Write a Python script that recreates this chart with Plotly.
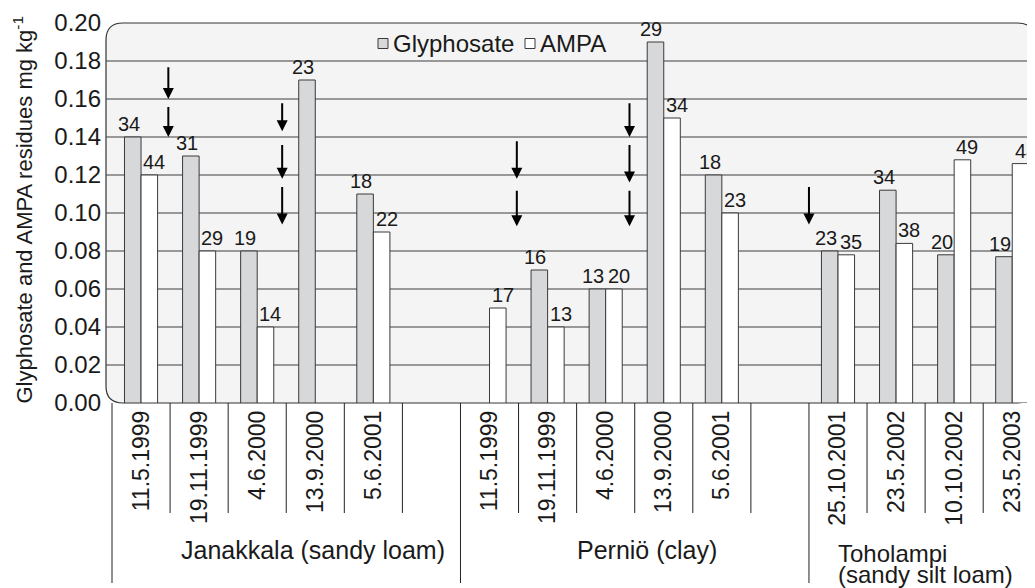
import plotly.graph_objects as go

# ---------------- data ----------------
dates = ["11.5.1999", "19.11.1999", "4.6.2000", "13.9.2000", "5.6.2001", "",
         "11.5.1999", "19.11.1999", "4.6.2000", "13.9.2000", "5.6.2001", "",
         "25.10.2001", "23.5.2002", "10.10.2002", "23.5.2003"]
glyphosate = [0.14, 0.13, 0.08, 0.17, 0.11, None,
              None, 0.07, 0.06, 0.19, 0.12, None,
              0.080, 0.112, 0.078, 0.077]
ampa = [0.12, 0.08, 0.04, None, 0.09, None,
        0.05, 0.04, 0.06, 0.15, 0.10, None,
        0.078, 0.084, 0.128, 0.126]
glyphosate_n = ["34", "31", "19", "23", "18", "",
                "", "16", "13", "29", "18", "",
                "23", "34", "20", "19"]
ampa_n = ["44", "29", "14", "", "22", "",
          "17", "13", "20", "34", "23", "",
          "35", "38", "49", "48"]
sites = ["Janakkala (sandy loam)", "Perniö (clay)", "Toholampi", "(sandy silt loam)"]
site_x = [2.96, 8.71, 11.98, 11.98]
# application arrows: x position, tail value, tip value
arrow_x = [0.47, 0.47, 2.43, 2.43, 2.43, 6.47, 6.47, 8.41, 8.41, 8.41, 11.5]
arrow_tail = [0.177, 0.156, 0.158, 0.136, 0.114, 0.138, 0.112, 0.158, 0.136, 0.112, 0.114]
arrow_tip = [0.160, 0.140, 0.143, 0.118, 0.094, 0.118, 0.093, 0.140, 0.116, 0.093, 0.094]
y_ticks = [0.00, 0.02, 0.04, 0.06, 0.08, 0.10, 0.12, 0.14, 0.16, 0.18, 0.20]
group_edges = [0, 6, 12]

FONT = "Liberation Sans, Arial, Helvetica, sans-serif"
TXT = "#1a1a1a"
GRAY = "#d7d8da"
EDGE = "#3a3a3a"
x = list(range(len(dates)))

fig = go.Figure()
fig.add_trace(go.Bar(x=x, y=glyphosate, name="Glyphosate",
                     marker=dict(color=GRAY, line=dict(color=EDGE, width=1))))
fig.add_trace(go.Bar(x=x, y=ampa, name="AMPA",
                     marker=dict(color="#ffffff", line=dict(color=EDGE, width=1))))

# page offset of the plot div (body margin) is compensated here
OFF = 8
W, H = 1035 - OFF, 588 - OFF
plot_l, plot_r, plot_t, plot_b = 106, 1035, 23, 403   # in page pixels
ml, mr, mt = plot_l - OFF, 0, plot_t - OFF
mb = H - (plot_b - OFF)
pw, ph = plot_r - plot_l, plot_b - plot_t
slot_px = 58.08
x0 = -0.5 - (112 - plot_l) / slot_px
x1 = x0 + pw / slot_px
bargap = 0.43
half_bar_px = (1 - bargap) * slot_px / 4


def px(p):
    return (p - plot_l) / pw


def py(p):
    return (plot_b - p) / ph


shapes = []
rx, ry = 17 / pw, 17 / ph
xr = 0.9995
path = (f"M {rx},1 L {xr - rx},1 Q {xr},1 {xr},{1 - ry} L {xr},{ry} "
        f"Q {xr},0 {xr - rx},0 L {rx},0 Q 0,0 0,{ry} L 0,{1 - ry} Q 0,1 {rx},1 Z")
shapes.append(dict(type="path", xref="paper", yref="paper", path=path,
                   fillcolor="#f4f4f4", line=dict(color="#333333", width=1.2), layer="below"))
for v in y_ticks[1:-1]:
    shapes.append(dict(type="line", xref="paper", yref="y", x0=0, x1=xr, y0=v, y1=v,
                       line=dict(color="#3c3c3c", width=1), layer="below"))
for k in range(len(dates)):
    long = k in group_edges
    shapes.append(dict(type="line", xref="x", yref="paper", x0=k - 0.5, x1=k - 0.5,
                       y0=0, y1=py(583) if long else py(513),
                       line=dict(color="#222222", width=1)))
shapes.append(dict(type="rect", xref="paper", yref="paper", x0=px(378), x1=px(388),
                   y0=py(48.5), y1=py(38.5), fillcolor=GRAY, line=dict(color=EDGE, width=1)))
shapes.append(dict(type="rect", xref="paper", yref="paper", x0=px(525), x1=px(535),
                   y0=py(48.5), y1=py(38.5), fillcolor="#ffffff", line=dict(color=EDGE, width=1)))

ann = []
lab_font = dict(family=FONT, size=20, color=TXT)
for i in x:
    if glyphosate[i] is not None and glyphosate_n[i]:
        ann.append(dict(text=glyphosate_n[i], x=i, y=glyphosate[i], xref="x", yref="y",
                        xshift=-half_bar_px - 4, yanchor="bottom", showarrow=False,
                        font=lab_font))
    if ampa[i] is not None and ampa_n[i]:
        ann.append(dict(text=ampa_n[i], x=i, y=ampa[i], xref="x", yref="y",
                        xshift=half_bar_px + 5, yanchor="bottom", showarrow=False,
                        font=lab_font))
ann.append(dict(text="Glyphosate", xref="paper", yref="paper", x=px(391), y=py(43),
                xanchor="left", yanchor="middle", showarrow=False,
                font=dict(family=FONT, size=24, color=TXT)))
ann.append(dict(text="AMPA", xref="paper", yref="paper", x=px(538), y=py(43),
                xanchor="left", yanchor="middle", showarrow=False,
                font=dict(family=FONT, size=24, color=TXT)))
ann.append(dict(text="Glyphosate and AMPA residues mg kg<sup>-1</sup>", textangle=-90,
                xref="paper", yref="paper", x=px(22.5), y=py(210),
                xanchor="center", yanchor="middle", showarrow=False,
                font=dict(family=FONT, size=22, color=TXT)))
site_y = [550, 550, 553, 574]
site_size = [25, 25, 24, 24]
site_anchor = ["center", "center", "left", "left"]
for s, sx, sy, sz, sa in zip(sites, site_x, site_y, site_size, site_anchor):
    ann.append(dict(text=s, xref="x", yref="paper", x=sx, y=py(sy),
                    xanchor=sa, yanchor="middle", showarrow=False, borderpad=0,
                    font=dict(family=FONT, size=sz, color=TXT)))
for ax_, a0, a1 in zip(arrow_x, arrow_tail, arrow_tip):
    ann.append(dict(text="", x=ax_, y=a1, ax=ax_, ay=a0, xref="x", yref="y",
                    axref="x", ayref="y", showarrow=True, arrowhead=2,
                    arrowsize=1.1, arrowwidth=2, arrowcolor="#000000",
                    font=dict(size=1), borderpad=0))

fig.update_layout(
    width=W, height=H,
    margin=dict(l=ml, r=mr, t=mt, b=mb, autoexpand=False),
    paper_bgcolor="#ffffff", plot_bgcolor="rgba(0,0,0,0)",
    barmode="group", bargap=bargap, bargroupgap=0,
    showlegend=False,
    shapes=shapes, annotations=ann,
    font=dict(family=FONT, color=TXT),
    xaxis=dict(range=[x0, x1], tickmode="array",
               tickvals=[i for i, d in enumerate(dates) if d], ticktext=[d for d in dates if d],
               tickangle=-90, showgrid=False, zeroline=False, showline=False, ticks="",
               ticklabelstandoff=2, automargin=False,
               tickfont=dict(family=FONT, size=23, color=TXT)),
    yaxis=dict(range=[0, 0.2], tickmode="array", tickvals=y_ticks,
               ticktext=[f"{v:.2f}" for v in y_ticks],
               showgrid=False, zeroline=False, showline=False, ticks="",
               ticklabelstandoff=4, automargin=False,
               tickfont=dict(family=FONT, size=24, color=TXT)),
)

fig.write_html("out.html")
